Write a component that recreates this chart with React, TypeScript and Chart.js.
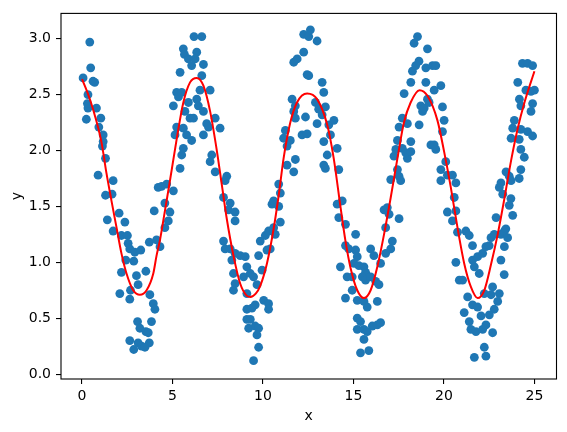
import React, { useEffect, useRef } from "react";
import { Chart, registerables } from "chart.js";

Chart.register(...registerables);

const scatterPoints: [number, number][] = [
  [0.43, 2.97], [0.48, 2.74], [0.06, 2.65], [0.61, 2.62], [0.70, 2.61], [0.33, 2.50], [0.33, 2.38], [0.30, 2.42],
  [0.80, 2.38], [0.24, 2.28], [1.04, 2.29], [0.93, 2.21], [1.17, 2.14], [1.17, 2.08], [1.13, 2.04], [1.30, 1.93],
  [0.89, 1.78], [1.72, 1.73], [1.30, 1.60], [1.66, 1.61], [2.05, 1.44], [2.37, 1.36], [1.40, 1.38], [1.72, 1.28],
  [2.18, 1.24], [2.51, 1.24], [2.55, 1.17], [2.64, 1.12], [2.92, 1.09], [3.25, 1.11], [2.42, 1.02], [2.86, 1.01],
  [3.72, 1.18], [4.12, 1.20], [2.18, 0.91], [3.01, 0.88], [3.53, 0.92], [3.10, 0.80], [2.68, 0.75], [2.09, 0.72],
  [2.64, 0.67], [3.75, 0.71], [3.94, 0.63], [4.03, 0.58], [3.07, 0.47], [3.20, 0.41], [3.53, 0.38], [3.66, 0.37],
  [3.84, 0.47], [2.64, 0.30], [3.10, 0.28], [3.29, 0.25], [3.72, 0.28], [2.86, 0.22], [3.48, 0.24], [3.99, 1.46],
  [4.21, 1.67],
  [6.19, 3.02], [6.62, 3.02], [5.60, 2.91], [5.66, 2.86], [6.34, 2.88], [5.88, 2.82], [6.25, 2.82], [6.06, 2.76],
  [6.71, 2.77], [5.42, 2.70], [6.62, 2.67], [5.23, 2.52], [5.33, 2.48], [5.51, 2.52], [5.05, 2.40], [5.88, 2.43],
  [6.34, 2.46], [6.52, 2.54], [6.43, 2.40], [6.71, 2.35], [7.08, 2.54], [5.69, 2.35], [5.97, 2.29], [6.16, 2.29],
  [7.36, 2.29], [6.89, 2.24], [6.99, 2.21], [5.23, 2.21], [5.60, 2.20], [5.14, 2.14], [5.78, 2.14], [6.06, 2.09],
  [6.71, 2.14], [7.63, 2.20], [5.60, 2.02], [5.51, 1.96], [5.42, 1.84], [7.17, 1.96], [7.08, 1.90], [7.36, 1.81],
  [8.00, 1.77], [7.91, 1.73], [4.68, 1.70], [4.40, 1.68], [5.05, 1.64], [7.82, 1.58], [8.19, 1.53], [8.10, 1.47],
  [8.46, 1.45], [8.46, 1.37], [4.58, 1.53], [4.86, 1.45], [4.77, 1.37], [4.58, 1.31], [4.31, 1.14], [7.82, 1.19],
  [7.91, 1.12], [8.19, 1.12], [8.46, 1.08], [8.74, 1.06], [8.28, 1.02], [9.02, 1.05], [9.11, 0.96], [8.37, 0.90],
  [8.93, 0.87], [8.46, 0.81], [8.37, 0.75], [9.11, 0.72], [9.11, 0.58], [9.11, 0.49],
  [9.30, 0.90], [9.48, 0.87], [9.67, 0.80], [9.57, 0.62], [9.39, 0.59], [10.04, 0.66], [10.31, 0.63], [10.31, 0.58],
  [9.30, 0.49], [9.21, 0.41], [9.57, 0.43], [9.76, 0.41], [9.67, 0.35], [9.76, 0.24], [9.48, 0.12], [9.76, 1.06],
  [9.85, 1.19], [10.13, 1.24], [10.40, 1.12], [10.22, 1.11], [9.95, 0.93], [10.31, 1.28], [10.59, 1.31], [10.68, 1.25],
  [10.96, 1.36], [10.50, 1.52], [10.59, 1.55], [10.87, 1.50], [10.96, 1.62], [10.87, 1.70], [11.33, 1.87], [11.70, 1.81],
  [11.79, 1.92], [11.14, 2.11], [11.24, 2.18], [11.33, 2.04], [11.51, 2.09], [11.61, 2.46], [11.70, 2.35], [11.79, 2.29],
  [11.79, 2.40], [11.70, 2.79], [11.89, 2.82], [12.25, 2.88], [12.16, 2.14], [12.44, 2.15], [12.35, 2.30], [12.25, 3.04],
  [12.53, 3.02], [12.62, 3.08], [12.99, 2.98], [12.44, 2.68], [12.53, 2.67], [13.27, 2.61], [13.36, 2.52], [12.90, 2.43],
  [13.08, 2.37], [13.45, 2.39], [13.27, 2.32], [12.99, 2.24], [13.64, 2.23], [13.92, 2.27], [13.36, 2.08], [13.73, 2.14],
  [14.10, 2.02], [13.55, 1.96], [13.36, 1.87], [13.45, 1.84], [14.19, 1.83], [14.10, 1.52], [14.19, 1.40], [14.28, 0.96],
  [14.38, 1.55], [14.56, 1.34], [15.12, 1.25], [14.56, 1.15], [14.74, 1.12], [15.12, 1.11], [15.21, 1.05], [15.03, 0.99],
  [15.30, 0.97], [15.58, 0.96], [15.67, 0.91], [15.95, 1.12], [16.13, 1.06], [14.65, 0.87], [14.93, 0.87], [15.49, 0.87],
  [15.67, 0.84], [15.95, 0.87], [16.23, 0.83], [16.41, 0.80], [14.93, 0.75], [14.56, 0.68], [15.21, 0.66], [15.58, 0.65],
  [15.76, 0.60], [16.32, 0.65], [15.21, 0.50], [15.39, 0.47], [15.21, 0.40], [15.58, 0.40], [16.04, 0.43], [16.32, 0.44],
  [16.50, 0.46], [15.76, 0.38], [15.58, 0.31], [15.39, 0.19], [15.85, 0.21], [16.50, 0.99], [16.78, 1.08], [17.06, 1.12],
  [17.15, 1.19], [16.69, 1.47], [16.87, 1.49], [16.97, 1.43], [16.78, 1.31], [17.52, 1.39], [17.24, 1.95], [17.34, 2.01],
  [17.06, 1.74], [17.52, 1.77], [17.61, 1.73], [17.43, 1.83], [17.43, 2.09], [17.70, 2.02], [17.98, 1.93], [17.89, 1.98],
  [18.17, 1.99], [18.17, 2.08], [17.52, 2.21], [17.70, 2.29], [17.98, 2.24], [17.80, 2.51], [18.17, 2.61], [18.26, 2.71],
  [18.44, 2.76], [18.62, 2.80], [18.35, 2.96], [18.54, 3.02], [18.72, 2.40], [18.82, 2.35], [18.63, 2.23], [18.91, 2.38],
  [19.09, 2.46], [19.00, 2.61], [19.00, 2.74], [19.09, 2.91], [19.28, 2.05],
  [19.37, 2.76], [19.55, 2.76], [19.83, 2.58], [19.46, 2.54], [19.18, 2.43], [19.92, 2.39], [20.01, 2.27], [19.92, 2.17],
  [19.46, 2.05], [19.55, 2.01], [19.83, 1.83], [20.10, 1.90], [19.83, 1.73], [20.19, 1.78], [20.47, 1.78], [20.66, 1.71],
  [20.57, 1.58], [20.19, 1.45], [20.66, 1.46], [20.47, 1.37], [20.75, 1.27], [21.21, 1.28], [21.40, 1.24], [21.58, 1.15],
  [21.58, 1.02], [21.86, 1.05], [22.14, 1.08], [22.32, 1.14], [22.50, 1.15], [22.60, 1.22], [22.78, 1.25], [22.88, 1.40],
  [20.66, 1.00], [20.85, 0.84], [21.03, 0.84], [21.68, 0.96], [21.95, 0.90], [21.31, 0.69], [21.58, 0.62], [21.86, 0.60],
  [22.23, 0.72], [22.69, 0.78], [22.60, 0.71], [23.06, 0.72], [22.97, 0.65], [22.78, 0.58], [22.51, 0.53], [22.05, 0.52],
  [21.12, 0.55], [21.40, 0.47], [21.49, 0.40], [21.77, 0.38], [22.14, 0.40], [22.69, 0.37], [22.32, 0.44], [22.23, 0.24],
  [22.32, 0.16], [21.68, 0.15], [23.15, 1.02], [23.34, 1.14], [23.15, 1.25], [23.34, 1.28], [23.52, 1.22], [23.06, 1.67],
  [23.25, 1.61], [23.15, 1.71], [23.43, 1.81], [23.61, 1.77], [23.71, 1.73], [23.71, 2.11], [23.80, 2.20], [23.89, 2.27],
  [24.08, 2.61], [24.17, 2.46],
  [24.34, 2.78], [24.62, 2.78], [24.90, 2.76], [24.53, 2.54], [24.81, 2.53], [25.00, 2.54], [24.90, 2.42], [24.25, 2.40],
  [24.81, 2.35], [24.25, 2.19], [24.62, 2.17], [24.90, 2.13], [24.16, 2.10], [24.25, 2.01], [24.44, 1.94], [24.25, 1.83],
  [24.16, 1.75], [23.70, 1.57], [23.61, 1.51], [23.80, 1.42], [23.42, 1.30], [23.33, 0.89],
];

// Fitted curve, sampled along the red line
const fitX = [
  0, 0.3, 0.61, 1.07, 1.35, 1.63, 1.91, 2.18, 2.46, 2.83, 3.2, 3.57, 3.94, 4.12, 4.31, 4.49, 4.86, 5.23, 5.6, 5.97,
  6.34, 6.71, 7.08, 7.45, 7.73, 8.0, 8.37, 8.74, 9.11, 9.3, 9.6, 9.85, 10.22, 10.59, 10.87, 11.14, 11.51, 11.88,
  12.44, 12.99, 13.55, 13.91, 14.28, 14.56, 14.84, 15.21, 15.58, 15.95, 16.32, 16.69, 17.06, 17.43, 17.79, 18.16,
  18.65, 19.09, 19.64, 20.01, 20.38, 20.75, 21.12, 21.49, 21.86, 22.23, 22.6, 22.97, 23.34, 23.71, 24.08, 24.45, 25.0,
];
const fitY = [
  2.64, 2.52, 2.37, 2.08, 1.8, 1.55, 1.31, 1.08, 0.9, 0.75, 0.71, 0.75, 0.9, 1.06, 1.2, 1.37, 1.73, 2.1, 2.43, 2.61,
  2.65, 2.58, 2.35, 2.0, 1.69, 1.39, 1.06, 0.81, 0.7, 0.69, 0.72, 0.79, 0.99, 1.3, 1.6, 1.93, 2.25, 2.43,
  2.51, 2.46, 2.23, 1.93, 1.5, 1.19, 0.95, 0.75, 0.68, 0.75, 0.96, 1.25, 1.58, 1.93, 2.25, 2.43,
  2.54, 2.49, 2.27, 1.99, 1.67, 1.31, 0.99, 0.78, 0.68, 0.75, 0.98, 1.25, 1.57, 1.91, 2.2, 2.43, 2.71,
];

const xTicks = [0, 5, 10, 15, 20, 25];
const yTicks = [0, 0.5, 1.0, 1.5, 2.0, 2.5, 3.0];

const FONT = "'DejaVu Sans', sans-serif";

const framePlugin = {
  id: "frame",
  afterDatasetsDraw(chart: any) {
    const { ctx, chartArea: a } = chart;
    ctx.save();
    ctx.strokeStyle = "#000";
    ctx.lineWidth = 1.1;
    ctx.strokeRect(a.left, a.top, a.right - a.left, a.bottom - a.top);
    ctx.restore();
  },
};

export default function App() {
  const ref = useRef<HTMLCanvasElement | null>(null);

  useEffect(() => {
    if (!ref.current) return;
    const chart = new Chart(ref.current, {
      type: "scatter",
      data: {
        datasets: [
          {
            type: "line",
            data: fitX.map((x, i) => ({ x, y: fitY[i] })),
            borderColor: "#ff0000",
            borderWidth: 2,
            pointRadius: 0,
            fill: false,
            cubicInterpolationMode: "monotone",
            order: 0,
          } as any,
          {
            type: "scatter",
            data: scatterPoints.map(([x, y]) => ({ x, y })),
            pointBackgroundColor: "#1f77b4",
            pointBorderColor: "#1f77b4",
            backgroundColor: "#1f77b4",
            pointBorderWidth: 0,
            pointRadius: 4.4,
            order: 1,
          } as any,
        ],
      },
      options: {
        responsive: false,
        animation: false,
        devicePixelRatio: 1,
        layout: { padding: { left: 0, top: 9, right: 10.5, bottom: 0 } },
        plugins: { legend: { display: false }, tooltip: { enabled: false } },
        scales: {
          x: {
            type: "linear",
            min: -1.16,
            max: 26.22,
            afterBuildTicks: (s: any) => {
              s.ticks = xTicks.map((v) => ({ value: v }));
            },
            afterFit: (s: any) => {
              s.height = 53;
            },
            ticks: {
              color: "#000",
              font: { family: FONT, size: 14 },
              padding: 4,
              maxRotation: 0,
              autoSkip: false,
              callback: (v: any) => String(v),
            },
            grid: { drawOnChartArea: false, tickLength: 5, tickColor: "#000", lineWidth: 1.1 },
            border: { display: false },
            title: {
              display: true,
              text: "x",
              color: "#000",
              font: { family: FONT, size: 14 },
              padding: { top: 0, bottom: 7.6 },
            },
          },
          y: {
            type: "linear",
            min: -0.044,
            max: 3.227,
            afterBuildTicks: (s: any) => {
              s.ticks = yTicks.map((v) => ({ value: v }));
            },
            afterFit: (s: any) => {
              s.width = 61;
            },
            ticks: {
              color: "#000",
              font: { family: FONT, size: 14 },
              padding: 5,
              autoSkip: false,
              callback: (v: any) => Number(v).toFixed(1),
            },
            grid: { drawOnChartArea: false, tickLength: 5, tickColor: "#000", lineWidth: 1.1 },
            border: { display: false },
            title: {
              display: true,
              text: "y",
              color: "#000",
              font: { family: FONT, size: 14 },
              padding: { top: 9, bottom: 0 },
            },
          },
        },
      },
      plugins: [framePlugin],
    });
    return () => chart.destroy();
  }, []);

  return (
    <div style={{ position: "fixed", left: 0, top: 0, width: 567, height: 432, background: "#fff" }}>
      <canvas ref={ref} width={567} height={432} style={{ display: "block" }} />
    </div>
  );
}
